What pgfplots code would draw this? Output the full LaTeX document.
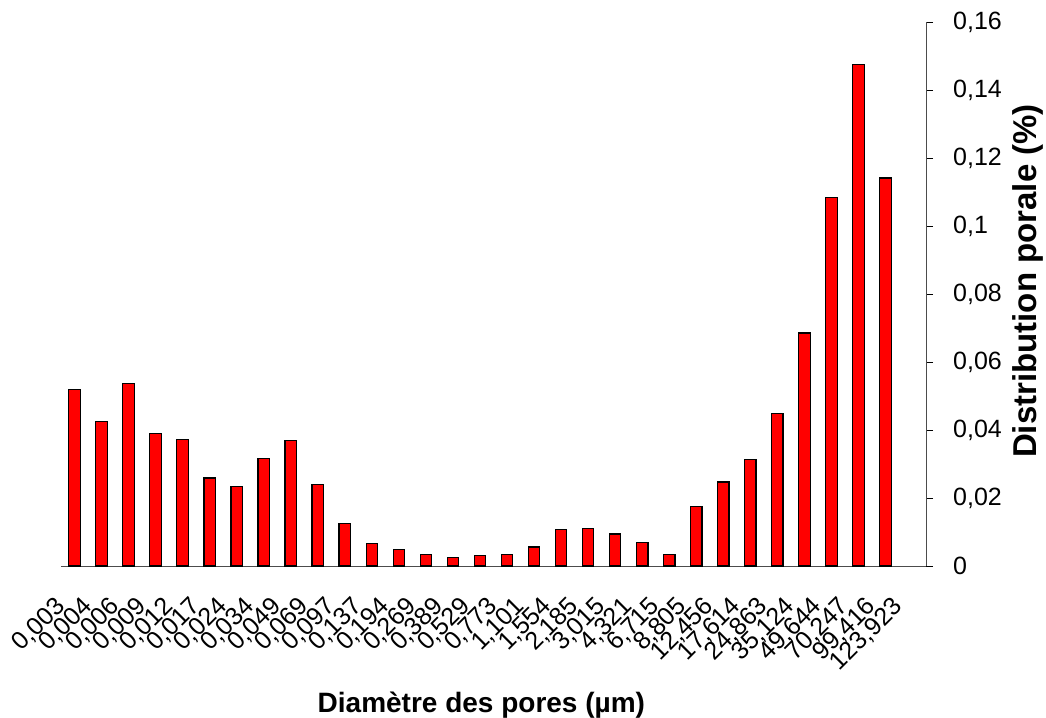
\documentclass[border=0pt]{standalone}
\usepackage{fontspec}
\setmainfont{Liberation Sans}
\usepackage{pgfplots}
\pgfplotsset{compat=1.18}
\begin{document}
\begin{tikzpicture}
\useasboundingbox (-61pt,-151pt) rectangle (985pt,566pt);
\begin{axis}[
  at={(0pt,0pt)}, anchor=south west,
  scale only axis, width=865pt, height=544pt,
  xmin=0.5, xmax=32.5, ymin=0, ymax=0.16,
  axis x line=bottom, axis y line=right,
  axis line style={-, draw=black!70, line width=0.9pt},
  tick align=outside,
  major tick length=7pt, minor tick length=8pt,
  every tick/.style={black, line width=0.9pt},
  xtick={1,...,32},
  xtick style={draw=none},
  minor xtick={0.5,1.5,...,32.5},
  xticklabels={{0,003},{0,004},{0,006},{0,009},{0,012},{0,017},{0,024},{0,034},{0,049},{0,069},{0,097},{0,137},{0,194},{0,269},{0,389},{0,529},{0,773},{1,101},{1,554},{2,185},{3,015},{4,321},{6,715},{8,805},{12,456},{17,614},{24,863},{35,124},{49,644},{70,247},{99,416},{123,923}},
  xticklabel style={font=\fontsize{25}{29}\selectfont, inner sep=0pt, xshift=-21pt, yshift=-22pt, rotate=45, anchor=north east},
  ytick={0,0.02,0.04,0.06,0.08,0.1,0.12,0.14,0.16},
  yticklabels={0,{0,02},{0,04},{0,06},{0,08},{0,1},{0,12},{0,14},{0,16}},
  yticklabel style={font=\fontsize{25}{29}\selectfont, anchor=west, inner sep=0pt, xshift=20pt},
  xlabel={\textbf{Diamètre des pores (µm)}},
  xlabel style={font=\fontsize{28}{32}\selectfont, at={(axis description cs:0.486,0)}, anchor=base, yshift=-146pt},
  ylabel={\textbf{Distribution porale (\%)}},
  ylabel style={font=\fontsize{33}{38}\selectfont, at={(axis description cs:1.118,0.524)}, anchor=center},
  clip=false,
]
\addplot[ybar, bar width=11.5pt, fill=red, draw=black, line width=1.2pt] coordinates {
(1,0.0518) (2,0.0424) (3,0.0536) (4,0.0390) (5,0.0371) (6,0.0259) (7,0.0235) (8,0.0317)
(9,0.0368) (10,0.0240) (11,0.0126) (12,0.0066) (13,0.0049) (14,0.0035) (15,0.0025) (16,0.0030)
(17,0.0035) (18,0.0056) (19,0.0107) (20,0.0111) (21,0.0094) (22,0.0070) (23,0.0035) (24,0.0175)
(25,0.0247) (26,0.0314) (27,0.0448) (28,0.0685) (29,0.1083) (30,0.1475) (31,0.1141)
};
\end{axis}
\end{tikzpicture}
\end{document}
